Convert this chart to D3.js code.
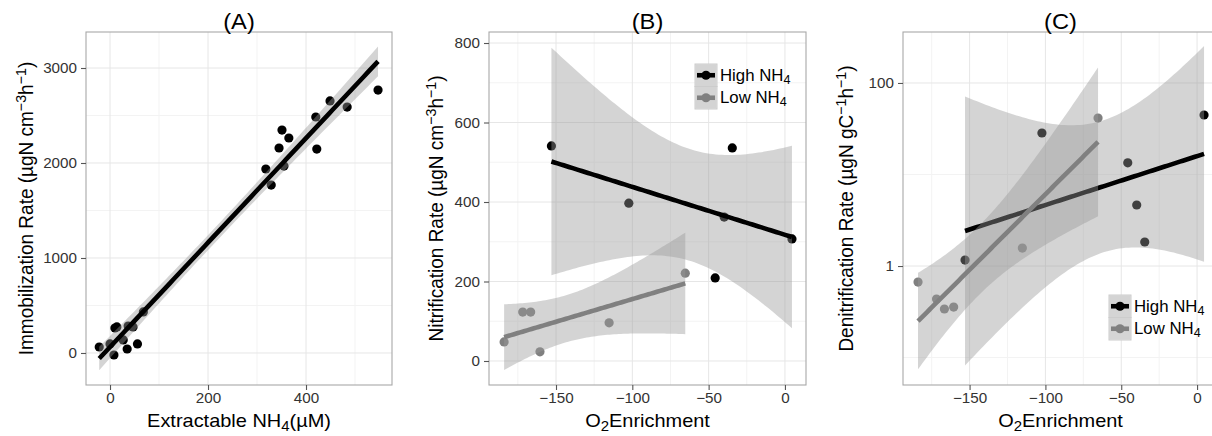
<!DOCTYPE html>
<html>
<head>
<meta charset="utf-8">
<script src="https://cdn.jsdelivr.net/npm/d3@7"></script>
<style>
  body { margin: 0; background: #fff; }
  svg { display: block; }
  text { font-family: "Liberation Sans", Arial, Helvetica, sans-serif; }
</style>
</head>
<body>
<svg id="chart" width="1212" height="436"></svg>
<script>
// ---- (A) immobilization vs extractable NH4 ----
const extractableNH4 = [-22, 0, 8, 10, 14, 27, 35, 37, 47, 56, 68,
                        318, 329, 345, 351, 365, 355, 422, 420, 449, 484, 547];
const immobilizationRate = [63, 95, -21, 263, 274, 137, 42, 284, 274, 95, 432,
                            1937, 1768, 2158, 2347, 2263, 1968, 2147, 2484, 2653, 2589, 2768];

// ---- (B) / (C) rates vs O2 enrichment, by NH4 level ----
const o2High = [-153, -102.3, -45.7, -39.8, -34.5, 4.6];
const o2Low  = [-184, -171.8, -166.6, -160.5, -115.2, -65.3];
const nitrificationHigh = [541, 397, 209, 362, 536, 307];
const nitrificationLow  = [48, 123, 123, 23, 96, 221];
const denitrificationHigh = [1.16, 28.4, 13.4, 4.64, 1.83, 44.7];
const denitrificationLow  = [0.668, 0.436, 0.339, 0.356, 1.57, 41.4];

const groupNames = ["High NH", "Low NH"];   // followed by a subscript 4
const groupColors = ["#000000", "#808080"];

// tick values
const ticksAx = [0, 200, 400];
const ticksAy = [0, 1000, 2000, 3000];
const minorAx = [100, 300, 500];
const minorAy = [500, 1500, 2500];
const ticksO2 = [-150, -100, -50, 0];
const minorO2 = [-175, -125, -75, -25];
const ticksBy = [0, 200, 400, 600, 800];
const minorBy = [100, 300, 500, 700];
const ticksCy = [1, 100];
const minorCy = [0.1, 10];

// two-sided 95% t quantiles by degrees of freedom
const t975 = {1:12.706,2:4.303,3:3.182,4:2.776,5:2.571,6:2.447,7:2.365,8:2.306,9:2.262,10:2.228,
  11:2.201,12:2.179,13:2.160,14:2.145,15:2.131,16:2.120,17:2.110,18:2.101,19:2.093,20:2.086,
  21:2.080,22:2.074,23:2.069,24:2.064,25:2.060,26:2.056,27:2.052,28:2.048,29:2.045,30:2.042};

// ordinary least squares fit with 95% confidence band, evaluated on 80 points
function lmSmooth(xs, ys, n = 80) {
  const N = xs.length;
  const mx = d3.mean(xs), my = d3.mean(ys);
  let sxx = 0, sxy = 0;
  xs.forEach((x, i) => { sxx += (x - mx) ** 2; sxy += (x - mx) * (ys[i] - my); });
  const b = sxy / sxx, a = my - b * mx;
  let sse = 0;
  xs.forEach((x, i) => { sse += (ys[i] - (a + b * x)) ** 2; });
  const s2 = sse / (N - 2);
  const t = t975[N - 2] || 1.96;
  const [x0, x1] = d3.extent(xs);
  return d3.range(n).map(i => {
    const x = x0 + (x1 - x0) * i / (n - 1);
    const fit = a + b * x;
    const se = Math.sqrt(s2 * (1 / N + (x - mx) ** 2 / sxx));
    return { x, fit, lo: fit - t * se, hi: fit + t * se };
  });
}

const svg = d3.select("#chart");
const FONT_TICK = 14.5, FONT_TITLE = 19, WIDEN = 1.05;

// append text built from [string, "sub" | "sup" | null] pieces
function richText(sel, pieces, size) {
  pieces.forEach(([str, mode]) => {
    const ts = sel.append("tspan").text(str);
    if (mode === "sup") ts.attr("font-size", size * 0.75).attr("baseline-shift", "48%");
    else if (mode === "sub") ts.attr("font-size", size * 0.75).attr("baseline-shift", "-24%");
  });
}

function drawPanel(cfg) {
  const { left, right, top, bottom, x, y } = cfg;
  const g = svg.append("g");
  const clipId = "clip-" + cfg.id;
  svg.append("clipPath").attr("id", clipId)
    .append("rect").attr("x", left).attr("y", top)
    .attr("width", right - left).attr("height", bottom - top);

  // grid
  const grid = g.append("g");
  grid.selectAll(".mx").data(cfg.minorX).join("line")
    .attr("x1", d => x(d)).attr("x2", d => x(d)).attr("y1", top).attr("y2", bottom)
    .attr("stroke", "#f3f3f3").attr("stroke-width", 1);
  grid.selectAll(".my").data(cfg.minorY).join("line")
    .attr("y1", d => y(d)).attr("y2", d => y(d)).attr("x1", left).attr("x2", right)
    .attr("stroke", "#f3f3f3").attr("stroke-width", 1);
  grid.selectAll(".gx").data(cfg.ticksX).join("line")
    .attr("x1", d => x(d)).attr("x2", d => x(d)).attr("y1", top).attr("y2", bottom)
    .attr("stroke", "#e6e6e6").attr("stroke-width", 1);
  grid.selectAll(".gy").data(cfg.ticksY).join("line")
    .attr("y1", d => y(d)).attr("y2", d => y(d)).attr("x1", left).attr("x2", right)
    .attr("stroke", "#e6e6e6").attr("stroke-width", 1);

  const plot = g.append("g").attr("clip-path", `url(#${clipId})`);

  // points first, smooths layered on top
  cfg.groups.forEach(grp => {
    plot.append("g").selectAll("circle").data(grp.xs.map((v, i) => [v, grp.ys[i]])).join("circle")
      .attr("cx", d => x(d[0])).attr("cy", d => y(d[1])).attr("r", 4.6)
      .attr("fill", grp.color);
  });
  cfg.groups.forEach(grp => {
    const fy = cfg.log ? (v => Math.pow(10, v)) : (v => v);
    const fit = lmSmooth(grp.xs, cfg.log ? grp.ys.map(Math.log10) : grp.ys);
    plot.append("path").datum(fit)
      .attr("d", d3.area().x(d => x(d.x)).y0(d => y(fy(d.lo))).y1(d => y(fy(d.hi))))
      .attr("fill", "#999999").attr("fill-opacity", 0.42);
    plot.append("path").datum(fit)
      .attr("d", d3.line().x(d => x(d.x)).y(d => y(fy(d.fit))))
      .attr("fill", "none").attr("stroke", grp.color).attr("stroke-width", 4.6);
  });

  // border
  g.append("rect").attr("x", left).attr("y", top)
    .attr("width", right - left).attr("height", bottom - top)
    .attr("fill", "none").attr("stroke", "#a8a8a8").attr("stroke-width", 1.1);

  // axes via d3 axis generators
  const ax = g.append("g").attr("transform", `translate(0,${bottom})`)
    .call(d3.axisBottom(x).tickValues(cfg.ticksX).tickSize(5).tickPadding(3).tickFormat(d3.format("d")));
  const ay = g.append("g").attr("transform", `translate(${left},0)`)
    .call(d3.axisLeft(y).tickValues(cfg.ticksY).tickSize(5).tickPadding(4).tickFormat(cfg.yFormat));
  [ax, ay].forEach(a => {
    a.select(".domain").remove();
    a.selectAll(".tick line").attr("stroke", "#555").attr("stroke-width", 1.1);
    a.selectAll(".tick text").attr("fill", "#333").attr("font-size", FONT_TICK)
      .style("font-family", "\"Liberation Sans\", Arial, sans-serif");
  });
  ax.selectAll(".tick text").attr("transform", `scale(${WIDEN},1)`);
  ay.selectAll(".tick text").attr("x", -9 / WIDEN).attr("transform", `scale(${WIDEN},1)`);

  // panel title
  g.append("text").attr("transform", `translate(${(left + right) / 2},29) scale(1.1,1)`)
    .attr("text-anchor", "middle").attr("font-size", 21.5).attr("fill", "#000").text(cfg.title);

  // axis titles
  const xt = g.append("text").attr("transform", `translate(${(left + right) / 2},427) scale(${WIDEN},1)`)
    .attr("text-anchor", "middle").attr("font-size", FONT_TITLE).attr("fill", "#000");
  richText(xt, cfg.xTitle, FONT_TITLE);
  const yt = g.append("text")
    .attr("transform", `translate(${cfg.yTitleX},${(top + bottom) / 2}) rotate(-90) scale(1,${WIDEN})`)
    .attr("text-anchor", "middle").attr("font-size", FONT_TITLE).attr("fill", "#000");
  richText(yt, cfg.yTitle, FONT_TITLE);

  if (cfg.legend) drawLegend(g, cfg.legend.x, cfg.legend.y);
}

function drawLegend(g, lx, ly) {
  const kw = 22, kh = 22.5;
  groupNames.forEach((name, i) => {
    const ky = ly + i * kh;
    g.append("rect").attr("x", lx).attr("y", ky).attr("width", kw).attr("height", kh)
      .attr("fill", "#fff").attr("stroke", "#cccccc").attr("stroke-width", 1);
    g.append("rect").attr("x", lx + 0.5).attr("y", ky + 0.5).attr("width", kw - 1).attr("height", kh - 1)
      .attr("fill", "#999999").attr("fill-opacity", 0.42);
    g.append("line").attr("x1", lx + 2).attr("x2", lx + kw - 2)
      .attr("y1", ky + kh / 2).attr("y2", ky + kh / 2)
      .attr("stroke", groupColors[i]).attr("stroke-width", 4.6);
    g.append("circle").attr("cx", lx + kw / 2).attr("cy", ky + kh / 2).attr("r", 4.6)
      .attr("fill", groupColors[i]);
    const t = g.append("text")
      .attr("transform", `translate(${lx + kw + 3},${ky + kh / 2 + 5.5}) scale(${WIDEN},1)`)
      .attr("font-size", 16).attr("fill", "#000");
    richText(t, [[name, null], ["4", "sub"]], 16);
  });
}

const yUnitsVol = [["(\u00b5gN cm", null], ["\u22123", "sup"], ["h", null], ["\u22121", "sup"], [")", null]];

// (A)
drawPanel({
  id: "a", left: 86, right: 392, top: 32, bottom: 385,
  x: d3.scaleLinear().domain([-49, 575.5]).range([86, 392]),
  y: d3.scaleLinear().domain([-337, 3379]).range([385, 32]),
  ticksX: ticksAx, ticksY: ticksAy, minorX: minorAx, minorY: minorAy,
  yFormat: d3.format("d"),
  title: "(A)",
  xTitle: [["Extractable NH", null], ["4", "sub"], ["(\u00b5M)", null]],
  yTitle: [["Immobilization Rate ", null], ...yUnitsVol],
  yTitleX: 33,
  groups: [{ xs: extractableNH4, ys: immobilizationRate, color: "#000" }]
});

// (B)
drawPanel({
  id: "b", left: 489, right: 806, top: 32, bottom: 385,
  x: d3.scaleLinear().domain([-193.9, 13.8]).range([489, 806]),
  y: d3.scaleLinear().domain([-60.4, 827.7]).range([385, 32]),
  ticksX: ticksO2, ticksY: ticksBy, minorX: minorO2, minorY: minorBy,
  yFormat: d3.format("d"),
  title: "(B)",
  xTitle: [["O", null], ["2", "sub"], ["Enrichment", null]],
  yTitle: [["Nitrification Rate ", null], ...yUnitsVol],
  yTitleX: 443,
  groups: [
    { xs: o2High, ys: nitrificationHigh, color: groupColors[0] },
    { xs: o2Low, ys: nitrificationLow, color: groupColors[1] }
  ],
  legend: { x: 695, y: 64 }
});

// (C) log-scaled rate axis
drawPanel({
  id: "c", left: 903, right: 1218, top: 32, bottom: 385,
  x: d3.scaleLinear().domain([-193.9, 13.8]).range([903, 1218]),
  y: d3.scaleLog().domain([Math.pow(10, -1.30), Math.pow(10, 2.557)]).range([385, 32]),
  ticksX: ticksO2, ticksY: ticksCy, minorX: minorO2, minorY: minorCy,
  yFormat: d3.format("d"),
  log: true,
  title: "(C)",
  xTitle: [["O", null], ["2", "sub"], ["Enrichment", null]],
  yTitle: [["Denitrification Rate (\u00b5gN gC", null], ["\u22121", "sup"], ["h", null], ["\u22121", "sup"], [")", null]],
  yTitleX: 853,
  groups: [
    { xs: o2High, ys: denitrificationHigh, color: groupColors[0] },
    { xs: o2Low, ys: denitrificationLow, color: groupColors[1] }
  ],
  legend: { x: 1109, y: 295 }
});
</script>
</body>
</html>
